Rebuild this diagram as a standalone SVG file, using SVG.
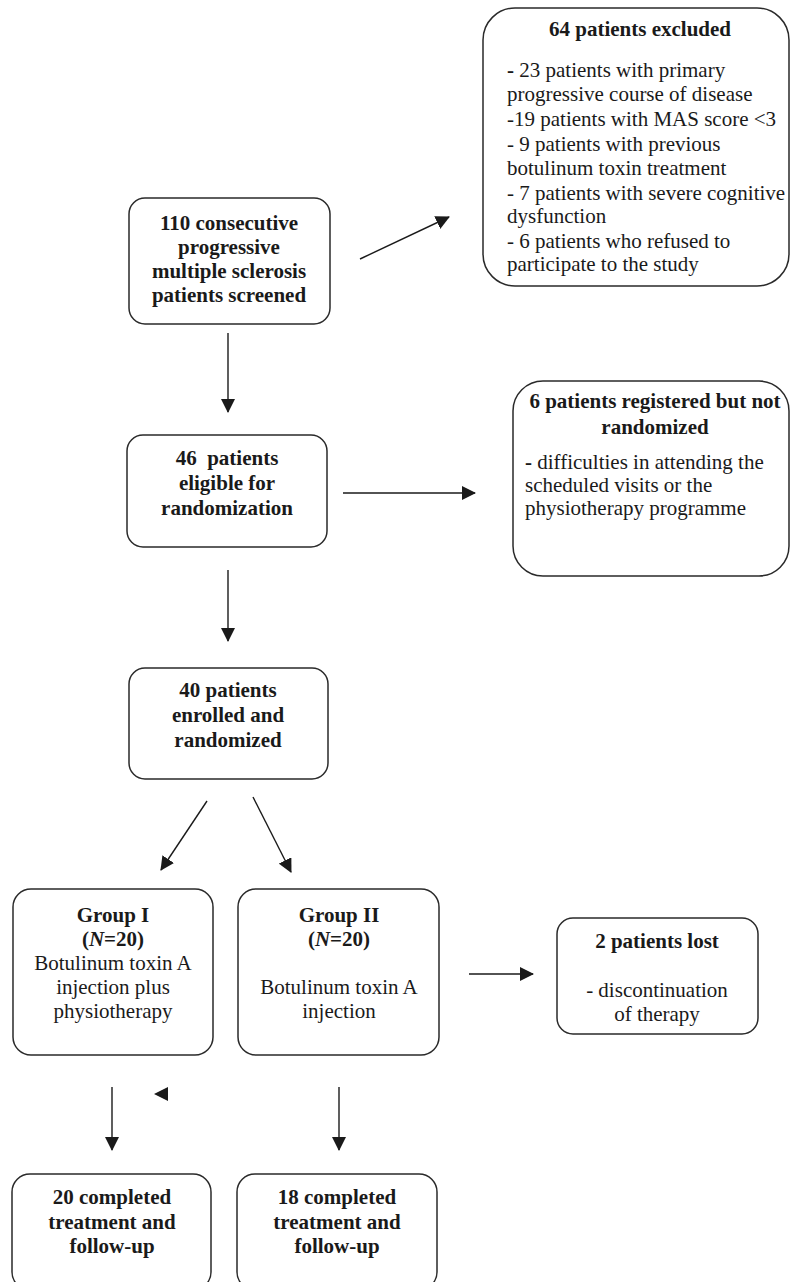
<svg xmlns="http://www.w3.org/2000/svg" width="790" height="1282" viewBox="0 0 790 1282">
<defs>
<marker id="ah" viewBox="0 0 14 14" refX="13" refY="7" markerWidth="14" markerHeight="14" markerUnits="userSpaceOnUse" orient="auto">
<path d="M0,0 L14,7 L0,14 Z" fill="#1a1a1a"/>
</marker>
<style>
.box{fill:#fff;stroke:#2a2a2a;stroke-width:1.5}
.t{font-family:"Liberation Serif","Times New Roman",serif;font-size:21px;fill:#1a1a1a}
.b{font-weight:bold}
.c{text-anchor:middle}
.ln{stroke:#1a1a1a;stroke-width:1.4;fill:none;marker-end:url(#ah)}
</style>
</defs>
<rect width="790" height="1282" fill="#fff"/>

<g id="excluded">
<rect class="box" x="483" y="8" width="306" height="278" rx="32"/>
<text class="t b c" x="640" y="36">64 patients excluded</text>
<text class="t" x="507" y="77"><tspan class="b">-</tspan> 23 patients with primary</text>
<text class="t" x="507" y="101">progressive course of disease</text>
<text class="t" x="507" y="126">-19 patients with MAS score &lt;3</text>
<text class="t" x="507" y="151">- 9 patients with previous</text>
<text class="t" x="507" y="175">botulinum toxin treatment</text>
<text class="t" x="507" y="200">- 7 patients with severe cognitive</text>
<text class="t" x="507" y="223">dysfunction</text>
<text class="t" x="507" y="248">- 6 patients who refused to</text>
<text class="t" x="507" y="271">participate to the study</text>
</g>

<g id="screened">
<rect class="box" x="129" y="198" width="201" height="126" rx="16"/>
<text class="t b c" x="229" y="230">110 consecutive</text>
<text class="t b c" x="229" y="254">progressive</text>
<text class="t b c" x="229" y="278">multiple sclerosis</text>
<text class="t b c" x="229" y="302">patients screened</text>
</g>

<g id="eligible">
<rect class="box" x="127" y="435" width="200" height="112" rx="16"/>
<text class="t b c" x="227" y="465">46&#160; patients</text>
<text class="t b c" x="227" y="490">eligible for</text>
<text class="t b c" x="227" y="515">randomization</text>
</g>

<g id="notrandomized">
<rect class="box" x="513" y="381" width="276" height="195" rx="30"/>
<text class="t b c" x="655" y="408">6 patients registered but not</text>
<text class="t b c" x="655" y="434">randomized</text>
<text class="t" x="525" y="469"><tspan class="b">-</tspan> difficulties in attending the</text>
<text class="t" x="525" y="492">scheduled visits or the</text>
<text class="t" x="525" y="515">physiotherapy programme</text>
</g>

<g id="enrolled">
<rect class="box" x="129" y="668" width="199" height="111" rx="16"/>
<text class="t b c" x="228" y="697">40 patients</text>
<text class="t b c" x="228" y="722">enrolled and</text>
<text class="t b c" x="228" y="747">randomized</text>
</g>

<g id="group1">
<rect class="box" x="13" y="889" width="200" height="166" rx="18"/>
<text class="t b c" x="113" y="922">Group I</text>
<text class="t b c" x="113" y="946">(<tspan font-style="italic">N</tspan>=20)</text>
<text class="t c" x="113" y="970">Botulinum toxin A</text>
<text class="t c" x="113" y="994">injection plus</text>
<text class="t c" x="113" y="1018">physiotherapy</text>
</g>

<g id="group2">
<rect class="box" x="238" y="889" width="201" height="166" rx="18"/>
<text class="t b c" x="339" y="922">Group II</text>
<text class="t b c" x="339" y="946">(<tspan font-style="italic">N</tspan>=20)</text>
<text class="t c" x="339" y="994">Botulinum toxin A</text>
<text class="t c" x="339" y="1018">injection</text>
</g>

<g id="lost">
<rect class="box" x="557" y="918" width="201" height="116" rx="16"/>
<text class="t b c" x="657" y="948">2 patients lost</text>
<text class="t c" x="657" y="997">- discontinuation</text>
<text class="t c" x="657" y="1021">of therapy</text>
</g>

<g id="completed1">
<rect class="box" x="12" y="1174" width="199" height="116" rx="18"/>
<text class="t b c" x="112" y="1204">20 completed</text>
<text class="t b c" x="112" y="1229">treatment and</text>
<text class="t b c" x="112" y="1253">follow-up</text>
</g>

<g id="completed2">
<rect class="box" x="237" y="1174" width="200" height="116" rx="18"/>
<text class="t b c" x="337" y="1204">18 completed</text>
<text class="t b c" x="337" y="1229">treatment and</text>
<text class="t b c" x="337" y="1253">follow-up</text>
</g>

<g id="connectors">
<line class="ln" x1="360" y1="259" x2="449" y2="217"/>
<line class="ln" x1="228" y1="333" x2="228" y2="412"/>
<line class="ln" x1="343" y1="493" x2="475" y2="493"/>
<line class="ln" x1="228" y1="570" x2="228" y2="641"/>
<line class="ln" x1="207" y1="801" x2="161" y2="870"/>
<line class="ln" x1="253" y1="797" x2="291" y2="872"/>
<line class="ln" x1="469" y1="974" x2="533" y2="974"/>
<line class="ln" x1="112" y1="1087" x2="112" y2="1150"/>
<line class="ln" x1="339" y1="1087" x2="339" y2="1150"/>
<path d="M168,1087 L154,1094 L168,1101 Z" fill="#1a1a1a"/>
</g>
</svg>
